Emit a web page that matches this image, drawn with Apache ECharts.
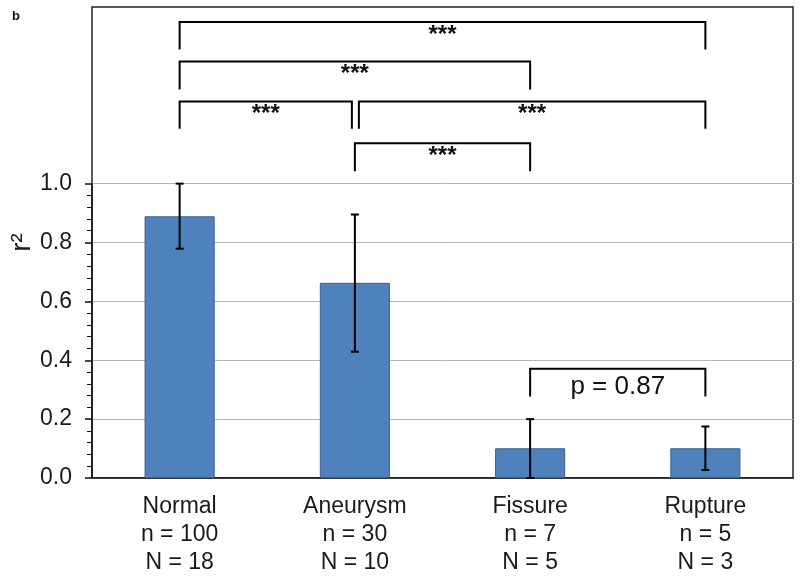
<!DOCTYPE html>
<html><head><meta charset="utf-8">
<script src="https://cdn.jsdelivr.net/npm/echarts@6/dist/echarts.min.js"></script>
<style>html,body{margin:0;padding:0;background:#fff}#c{width:800px;height:578px}</style>
</head><body><div id="c"></div>
<script>
// ---- data ----
const categories = ['Normal', 'Aneurysm', 'Fissure', 'Rupture'];
const smallN = [100, 30, 7, 5];
const bigN = [18, 10, 5, 3];
const meanR2 = [0.889, 0.663, 0.101, 0.101];
const errLow = [0.779, 0.429, 0.0, 0.027];
const errHigh = [1.0, 0.895, 0.2, 0.175];
const axisMax = 1.0;       // highest labelled tick
const frameMax = 1.6;      // top of the frame
const tickStep = 0.2;
// significance brackets
const bracketFrom = [0, 0, 0, 1, 1, 2];
const bracketTo = [3, 2, 1, 3, 2, 3];
const bracketY = [1.549, 1.415, 1.279, 1.279, 1.137, 0.371];
const bracketLegY = [1.456, 1.320, 1.186, 1.186, 1.042, 0.277];
const bracketText = ['***', '***', '***', '***', '***', 'p = 0.87'];

const FONT = '"Liberation Sans", Arial, Helvetica, sans-serif';
const gLeft = 92, gRight = 7, gTop = 7, gBottom = 100, H = 578;
const plotH = H - gTop - gBottom;
const gTopB = gTop + plotH * (1 - axisMax / frameMax);

const chart = echarts.init(document.getElementById('c'), null, {renderer: 'canvas'});
chart.setOption({
  animation: false,
  backgroundColor: '#fff',
  graphic: [{type: 'text', left: 12, top: 10, style: {text: 'b', font: 'bold 13px ' + FONT, fill: '#111'}}],
  grid: [
    {left: gLeft, right: gRight, top: gTop, bottom: gBottom, show: true, borderColor: '#222', borderWidth: 1.5, backgroundColor: 'transparent'},
    {left: gLeft, right: gRight, top: gTopB, bottom: gBottom}
  ],
  xAxis: [
    {gridIndex: 0, type: 'category', data: categories, show: false},
    {gridIndex: 1, type: 'category', data: categories,
      axisLine: {lineStyle: {color: '#111', width: 1.5}},
      axisTick: {show: false},
      axisLabel: {margin: 15, color: '#1a1a1a', fontSize: 23, lineHeight: 28, fontFamily: FONT,
        formatter: (v, i) => v + '\nn = ' + smallN[i] + '\nN = ' + bigN[i]}}
  ],
  yAxis: [
    {gridIndex: 0, type: 'value', min: 0, max: frameMax,
      axisLine: {show: false}, axisTick: {show: false}, axisLabel: {show: false}, splitLine: {show: false},
      name: 'r\u00B2', nameLocation: 'middle', nameRotate: 90, nameGap: 56,
      nameTextStyle: {fontSize: 28, color: '#1a1a1a', fontFamily: FONT}},
    {gridIndex: 1, type: 'value', min: 0, max: axisMax, interval: tickStep,
      axisLine: {show: true, lineStyle: {color: '#111', width: 1.5}},
      axisTick: {show: true, length: 7, lineStyle: {color: '#111', width: 1.5}},
      minorTick: {show: true, splitNumber: 5, length: 5, lineStyle: {color: '#111', width: 1}},
      splitLine: {show: true, lineStyle: {color: '#b5b5b5', width: 1}},
      axisLabel: {margin: 20, color: '#1a1a1a', fontSize: 23, fontFamily: FONT, formatter: v => v.toFixed(1)}}
  ],
  series: [
    {type: 'bar', xAxisIndex: 1, yAxisIndex: 1, data: meanR2, barWidth: '40%',
      itemStyle: {color: '#4F81BD', borderColor: '#3B5E8C', borderWidth: 1}},
    {type: 'custom', xAxisIndex: 1, yAxisIndex: 1, z: 5,
      data: categories.map((c, i) => [i, errLow[i], errHigh[i]]),
      renderItem: (params, api) => {
        const i = params.dataIndex;
        const lo = api.coord([i, errLow[i]]), hi = api.coord([i, errHigh[i]]);
        const cw = 4;
        const st = {stroke: '#000', lineWidth: 2};
        return {type: 'group', children: [
          {type: 'line', shape: {x1: lo[0], y1: lo[1], x2: hi[0], y2: hi[1]}, style: st},
          {type: 'line', shape: {x1: lo[0] - cw, y1: lo[1], x2: lo[0] + cw, y2: lo[1]}, style: st},
          {type: 'line', shape: {x1: hi[0] - cw, y1: hi[1], x2: hi[0] + cw, y2: hi[1]}, style: st}
        ]};
      }},
    {type: 'custom', xAxisIndex: 0, yAxisIndex: 0, z: 6, clip: false,
      data: bracketFrom.map((f, i) => [f, bracketTo[i], bracketY[i], bracketLegY[i]]),
      renderItem: (params, api) => {
        const i = params.dataIndex;
        let a = api.coord([bracketFrom[i], bracketY[i]]);
        let b = api.coord([bracketTo[i], bracketY[i]]);
        const legB = api.coord([bracketFrom[i], bracketLegY[i]])[1];
        let x1 = a[0], x2 = b[0];
        // avoid overlapping legs with an adjacent bracket on the same level
        for (let j = 0; j < bracketFrom.length; j++) {
          if (j !== i && bracketY[j] === bracketY[i]) {
            if (bracketTo[j] === bracketFrom[i]) x1 += 4;
            if (bracketFrom[j] === bracketTo[i]) x2 -= 3;
          }
        }
        const y = a[1];
        const isStar = bracketText[i] === '***';
        const ty = isStar ? y + 13 : (y + legB) / 2 + 4;
        return {type: 'group', children: [
          {type: 'polyline', shape: {points: [[x1, legB], [x1, y], [x2, y], [x2, legB]]},
            style: {stroke: '#000', lineWidth: 2, fill: null}},
          {type: 'text', style: {x: (x1 + x2) / 2, y: ty, text: bracketText[i],
            font: (isStar ? 'bold 24px ' : '26px ') + FONT, fill: '#111', align: 'center', verticalAlign: 'middle'}}
        ]};
      }}
  ]
});
</script></body></html>
